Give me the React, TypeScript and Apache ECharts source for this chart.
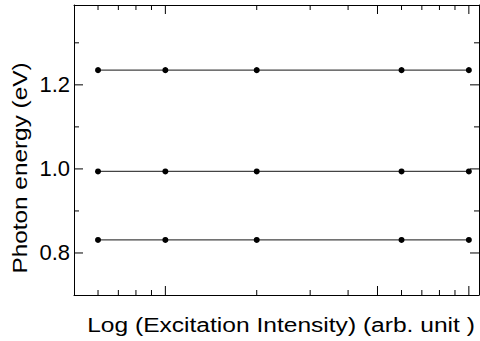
import React, { useEffect, useRef } from "react";
import * as echarts from "echarts";

// Data
const xValues = [6, 10, 20, 60, 100];
const upperLevel = [1.235, 1.235, 1.235, 1.235, 1.235];
const middleLevel = [0.994, 0.994, 0.994, 0.994, 0.994];
const lowerLevel = [0.831, 0.831, 0.831, 0.831, 0.831];

// Axis ticks
const xMajorTicks = [10, 50, 100];
const xMinorTicks = [6, 7, 8, 9, 20, 30, 40, 60, 70, 80, 90];
const yMajorTicks = [0.8, 1.0, 1.2];
const yMinorTicks = [0.9, 1.1, 1.3];
const yTickLabels = ["0.8", "1.0", "1.2"];

const X_MIN = 5;
const X_MAX = 108;
const Y_MIN = 0.7;
const Y_MAX = 1.39;

const xTitle = "Log (Excitation Intensity) (arb. unit )";
const yTitle = "Photon energy (eV)";

const FONT = "'Liberation Sans', Arial, Helvetica, sans-serif";

export default function App() {
  const ref = useRef<HTMLDivElement>(null);

  useEffect(() => {
    if (!ref.current) return;
    const chart = echarts.init(ref.current, undefined, { renderer: "svg" });

    const lineSeries = (vals: number[]) => ({
      type: "line",
      data: xValues.map((x, i) => [x, vals[i]]),
      symbol: "circle",
      symbolSize: 6,
      showSymbol: true,
      itemStyle: { color: "#000" },
      lineStyle: { color: "#444", width: 1.3 },
      z: 3,
    });

    const tickStyle = { stroke: "#000", lineWidth: 1 };

    const xTickSeries = {
      type: "custom",
      coordinateSystem: "cartesian2d",
      silent: true,
      clip: false,
      encode: { x: 0, y: 1 },
      data: [
        ...xMajorTicks.map((v) => [v, Y_MIN, 1]),
        ...xMinorTicks.map((v) => [v, Y_MIN, 0]),
      ],
      renderItem: (_p: any, api: any) => {
        const v = api.value(0);
        const len = api.value(2) ? 9 : 5;
        const b = api.coord([v, Y_MIN]);
        const t = api.coord([v, Y_MAX]);
        return {
          type: "group",
          children: [
            { type: "line", shape: { x1: b[0], y1: b[1], x2: b[0], y2: b[1] - len }, style: tickStyle },
            { type: "line", shape: { x1: t[0], y1: t[1], x2: t[0], y2: t[1] + len }, style: tickStyle },
          ],
        };
      },
    };

    const yTickSeries = {
      type: "custom",
      coordinateSystem: "cartesian2d",
      silent: true,
      clip: false,
      encode: { x: 0, y: 1 },
      data: [
        ...yMajorTicks.map((v) => [X_MIN, v, 1]),
        ...yMinorTicks.map((v) => [X_MIN, v, 0]),
      ],
      renderItem: (_p: any, api: any) => {
        const v = api.value(1);
        const len = api.value(2) ? 9 : 5;
        const l = api.coord([X_MIN, v]);
        const r = api.coord([X_MAX, v]);
        return {
          type: "group",
          children: [
            { type: "line", shape: { x1: l[0], y1: l[1], x2: l[0] + len, y2: l[1] }, style: tickStyle },
            { type: "line", shape: { x1: r[0], y1: r[1], x2: r[0] - len, y2: r[1] }, style: tickStyle },
          ],
        };
      },
    };

    const axisLine = { show: true, lineStyle: { color: "#000", width: 1 } };

    chart.setOption({
      animation: false,
      grid: { left: 74, top: 5, width: 405, height: 290 },
      xAxis: [
        {
          type: "log",
          logBase: 10,
          min: X_MIN,
          max: X_MAX,
          position: "bottom",
          axisLine,
          axisTick: { show: false },
          axisLabel: { show: false },
          splitLine: { show: false },
          minorTick: { show: false },
        },
        {
          type: "log",
          logBase: 10,
          min: X_MIN,
          max: X_MAX,
          position: "top",
          axisLine,
          axisTick: { show: false },
          axisLabel: { show: false },
          splitLine: { show: false },
        },
      ],
      yAxis: [
        {
          type: "value",
          min: Y_MIN,
          max: Y_MAX,
          interval: 0.1,
          position: "left",
          axisLine,
          axisTick: { show: false },
          splitLine: { show: false },
          axisLabel: {
            show: true,
            margin: 4,
            color: "#000",
            fontSize: 22,
            fontFamily: FONT,
            formatter: (v: number) => {
              const i = yMajorTicks.findIndex((m) => Math.abs(m - v) < 1e-6);
              return i >= 0 ? yTickLabels[i] : "";
            },
          },
        },
        {
          type: "value",
          min: Y_MIN,
          max: Y_MAX,
          interval: 0.1,
          position: "right",
          axisLine,
          axisTick: { show: false },
          axisLabel: { show: false },
          splitLine: { show: false },
        },
      ],
      graphic: [
        {
          type: "text",
          x: 281,
          y: 325,
          scaleX: 1.17,
          silent: true,
          style: {
            text: xTitle,
            fontSize: 21,
            fontFamily: FONT,
            fill: "#000",
            align: "center",
            verticalAlign: "middle",
            textAlign: "center",
            textVerticalAlign: "middle",
          },
        },
        {
          type: "text",
          x: 19.5,
          y: 168,
          rotation: Math.PI / 2,
          scaleX: 1.16,
          silent: true,
          style: {
            text: yTitle,
            fontSize: 21,
            fontFamily: FONT,
            fill: "#000",
            align: "center",
            verticalAlign: "middle",
            textAlign: "center",
            textVerticalAlign: "middle",
          },
        },
      ],
      series: [
        lineSeries(upperLevel),
        lineSeries(middleLevel),
        lineSeries(lowerLevel),
        xTickSeries,
        yTickSeries,
      ],
    });

    return () => chart.dispose();
  }, []);

  return (
    <div
      ref={ref}
      style={{ position: "absolute", left: 0, top: 0, width: 480, height: 341 }}
    />
  );
}
